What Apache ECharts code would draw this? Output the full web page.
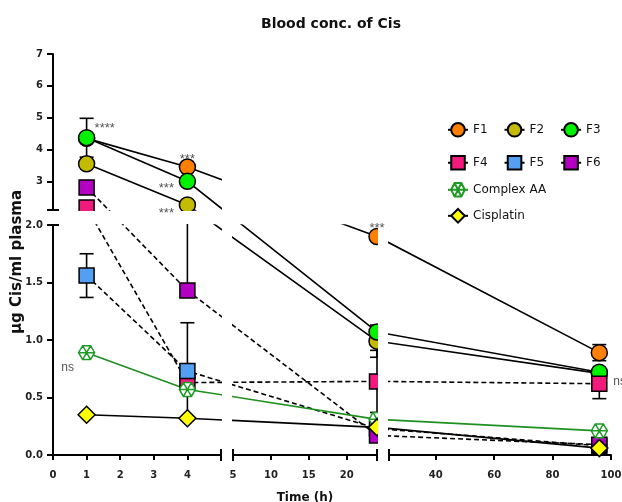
<!DOCTYPE html>
<html lang="en">
<head>
<meta charset="UTF-8">
<title>Blood conc. of Cis</title>
<script src="https://cdn.jsdelivr.net/npm/echarts@6.0.0/dist/echarts.min.js"></script>
<style>
    html, body { margin: 0; padding: 0; background: #fff; }
    #chart { width: 622px; height: 502px; }
</style>
</head>
<body>
<div id="chart"></div>
<script>
// sampling times (h)
var times = [1, 4, 24, 96];

// mean blood conc. (µg Cis/ml plasma), one value per time
var f1 = [4.35, 3.45, 1.90, 0.89];
var f2 = [3.55, 2.26, 0.99, 0.71];
var f3 = [4.37, 3.00, 1.07, 0.72];
var f4 = [2.18, 0.63, 0.64, 0.62];
var f5 = [1.56, 0.73, 0.23, 0.08];
var f6 = [2.81, 1.43, 0.17, 0.09];
var complexAA = [0.89, 0.57, 0.31, 0.21];
var cisplatin = [0.35, 0.32, 0.24, 0.06];

// error bars: [time, low, high]
var f1Err = [[96, 0.82, 0.96]];
var f2Err = [[24, 0.85, 1.13]];
var f3Err = [[1, 3.76, 4.98]];
var f4Err = [[24, 0.37, 0.91], [96, 0.49, 0.75]];
var f5Err = [[1, 1.37, 1.75], [4, 0.31, 1.15]];
var f6Err = [[4, 1.43, 2.05]];
var complexErr = [];
var cisErr = [];

// significance marks: [series, time, text]
var marks = [
    ['F3', 1, '****'],
    ['F1', 4, '***'],
    ['F3', 4, '***'],
    ['F2', 4, '***'],
    ['F1', 24, '***'],
    ['Complex AA', 1, 'ns'],
    ['F4', 96, 'ns']
];

// tick labels per axis piece
var xLabels1 = [0, 1, 2, 3, 4];
var xLabels2 = [5, 10, 15, 20];
var xLabels3 = [40, 60, 80, 100];
var yLabelsLow = [0, 0.5, 1, 1.5, 2];
var yLabelsHigh = [3, 4, 5, 6, 7];

// ---- layout: broken axes as 4 panels ----
var panels = [
    {left: 53, top: 54, width: 168, height: 156, x: [0, 5], y: [2.1, 7]},      // upper left
    {left: 53, top: 225, width: 168, height: 230, x: [0, 5], y: [0, 2]},       // lower left
    {left: 233, top: 225, width: 144, height: 230, x: [5, 24], y: [0, 2]},     // lower middle
    {left: 389, top: 225, width: 222, height: 230, x: [24, 100], y: [0, 2]}    // lower right
];
// where each mark sits relative to its point (dx, dy, align)
var markPos = [[8, -11, 'left'], [0, -10, 'center'], [-21, 5, 'center'], [-21, 7, 'center'],
               [0, -10, 'center'], [-19, 15, 'center'], [14, -2, 'left']];

var hexPath = 'path://M0,8.66L5,0L15,0L20,8.66L15,17.32L5,17.32Z M0,8.66L20,8.66 M5,0L15,17.32 M15,0L5,17.32';

var groups = [
    {name: 'F1', data: f1, err: f1Err, symbol: 'circle', size: 16, fill: '#ff8000', border: '#000', line: '#000', dash: false},
    {name: 'F2', data: f2, err: f2Err, symbol: 'circle', size: 16, fill: '#c4bb00', border: '#000', line: '#000', dash: false},
    {name: 'F3', data: f3, err: f3Err, symbol: 'circle', size: 16, fill: '#00f200', border: '#000', line: '#000', dash: false},
    {name: 'F4', data: f4, err: f4Err, symbol: 'rect', size: 15, fill: '#f21a7d', border: '#000', line: '#000', dash: true},
    {name: 'F5', data: f5, err: f5Err, symbol: 'rect', size: 15, fill: '#559ff2', border: '#000', line: '#000', dash: true},
    {name: 'F6', data: f6, err: f6Err, symbol: 'rect', size: 15, fill: '#b400c2', border: '#000', line: '#000', dash: true},
    {name: 'Complex AA', data: complexAA, err: complexErr, symbol: hexPath, size: 16, fill: '#fff', border: '#1f9a26', line: '#1f8f1f', dash: false},
    {name: 'Cisplatin', data: cisplatin, err: cisErr, symbol: 'diamond', size: 17, fill: '#ffff00', border: '#000', line: '#000', dash: false}
];

var tickFont = {fontFamily: 'DejaVu Sans', fontWeight: 'bold', fontSize: 10, color: '#222'};
var axisLine = {show: true, onZero: false, lineStyle: {color: '#000', width: 2}};

var chart = echarts.init(document.getElementById('chart'));

var xLabelSets = [[], xLabels1, xLabels2, xLabels3];
var xTickSets = [[], xLabels1, [10, 15, 20], xLabels3];
var base = {
    animation: false,
    backgroundColor: '#fff',
    grid: panels.map(function (p) {
        return {left: p.left, top: p.top, width: p.width, height: p.height, containLabel: false, outerBoundsMode: 'none'};
    }),
    xAxis: panels.map(function (p, i) {
        return {
            type: 'value', gridIndex: i, min: p.x[0], max: p.x[1], show: i > 0,
            axisLine: axisLine,
            axisTick: {show: true, customValues: xTickSets[i], length: 5, lineStyle: {color: '#000', width: 2}},
            axisLabel: Object.assign({customValues: xLabelSets[i], margin: 15}, tickFont),
            splitLine: {show: false},
            name: i === 2 ? 'Time (h)' : '',
            nameLocation: 'middle', nameGap: 37,
            nameTextStyle: {fontFamily: 'DejaVu Sans', fontWeight: 'bold', fontSize: 12, color: '#111'}
        };
    }),
    yAxis: panels.map(function (p, i) {
        var vals = i === 0 ? yLabelsHigh : yLabelsLow;
        return {
            type: 'value', gridIndex: i, min: p.y[0], max: p.y[1], show: i < 2,
            axisLine: axisLine,
            axisTick: {show: true, customValues: i === 0 ? yLabelsHigh : [0, 0.5, 1, 1.5], length: 6, lineStyle: {color: '#000', width: 2}},
            axisLabel: Object.assign({
                customValues: vals, margin: 10,
                formatter: function (v) { return i === 0 ? String(v) : v.toFixed(1); }
            }, tickFont),
            splitLine: {show: false}
        };
    })
};
chart.setOption(base);

function home(t, v) {
    if (t <= 5) return v > 2.05 ? 0 : 1;
    return t <= 24 ? 2 : 3;
}
function toPx(p, t, v) {
    return chart.convertToPixel({gridIndex: p}, [t, v]);
}

var series = [];

// error bars, below everything
panels.forEach(function (pn, p) {
    var items = [];
    groups.forEach(function (g) {
        g.err.forEach(function (e) {
            var v = g.data[times.indexOf(e[0])];
            if (home(e[0], v) === p) items.push(e);
        });
    });
    series.push({
        type: 'custom', xAxisIndex: p, yAxisIndex: p, z: 1, silent: true,
        encode: {x: 0, y: [1, 2]},
        data: items,
        renderItem: function (params, api) {
            var lo = api.coord([api.value(0), api.value(1)]);
            var hi = api.coord([api.value(0), api.value(2)]);
            var st = {stroke: '#000', lineWidth: 1.6};
            return {type: 'group', children: [
                {type: 'line', shape: {x1: lo[0], y1: lo[1], x2: hi[0], y2: hi[1]}, style: st},
                {type: 'line', shape: {x1: lo[0] - 7, y1: lo[1], x2: lo[0] + 7, y2: lo[1]}, style: st},
                {type: 'line', shape: {x1: hi[0] - 7, y1: hi[1], x2: hi[0] + 7, y2: hi[1]}, style: st}
            ]};
        }
    });
});

// lines: straight in screen space across the breaks, each panel clips its part
groups.forEach(function (g) {
    var pts = times.map(function (t, i) {
        var h = home(t, g.data[i]);
        return {h: h, t: t, v: g.data[i], pix: toPx(h, t, g.data[i])};
    });
    panels.forEach(function (pn, p) {
        var data = pts.map(function (q) {
            if (q.h === p) return {value: [q.t, q.v]};
            return {value: chart.convertFromPixel({gridIndex: p}, q.pix), symbol: 'none'};
        });
        series.push({
            type: 'line', name: g.name, xAxisIndex: p, yAxisIndex: p, z: 2,
            data: data, clip: true, silent: true,
            symbol: g.symbol, symbolSize: g.size, symbolKeepAspect: true, showAllSymbol: true,
            itemStyle: {color: g.fill, borderColor: g.border, borderWidth: 1.5, opacity: 1},
            lineStyle: {color: g.line, width: 1.6, type: g.dash ? [5, 3] : 'solid'},
            emphasis: {disabled: true}
        });
    });
});

// white gaps of the breaks
var graphics = [
    {type: 'rect', shape: {x: 222, y: 40, width: 10, height: 412}, style: {fill: '#fff'}, z: 100, silent: true},
    {type: 'rect', shape: {x: 378, y: 40, width: 10, height: 412}, style: {fill: '#fff'}, z: 100, silent: true},
    {type: 'rect', shape: {x: 55, y: 211, width: 167, height: 13}, style: {fill: '#fff'}, z: 100, silent: true}
];

// break marks at the ends of each axis piece
[[1, 5, 0, 'v'], [2, 5, 0, 'v'], [2, 24, 0, 'v'], [3, 24, 0, 'v'], [0, 0, 2.1, 'h'], [1, 0, 2, 'h']].forEach(function (b) {
    var c = toPx(b[0], b[1], b[2]);
    var shape = b[3] === 'v'
        ? {x1: c[0], y1: c[1] - 6, x2: c[0], y2: c[1] + 6}
        : {x1: c[0] - 6, y1: c[1], x2: c[0] + 6, y2: c[1]};
    graphics.push({type: 'line', shape: shape, style: {stroke: '#000', lineWidth: 2}, z: 110, silent: true});
});

// significance marks
marks.forEach(function (m, k) {
    var g = groups.filter(function (gg) { return gg.name === m[0]; })[0];
    var i = times.indexOf(m[1]);
    var v = g.data[i];
    var c = toPx(home(m[1], v), m[1], v);
    var o = markPos[k];
    var star = m[2].charAt(0) === '*';
    graphics.push({
        type: 'text', x: c[0] + o[0], y: c[1] + o[1] + (star ? 2 : 0), z: 120, silent: true,
        style: {text: m[2], fill: '#555', fontFamily: 'Liberation Sans', fontSize: star ? 13 : 12,
                align: o[2], verticalAlign: 'middle'}
    });
});

// title and y name
graphics.push({
    type: 'text', x: 331, y: 24, z: 120, silent: true,
    style: {text: 'Blood conc. of Cis', fill: '#111', fontFamily: 'DejaVu Sans', fontWeight: 'bold', fontSize: 14,
            align: 'center', verticalAlign: 'middle'}
});
graphics.push({
    type: 'text', x: 17, y: 262, rotation: Math.PI / 2, z: 120, silent: true,
    style: {text: 'µg Cis/ml plasma', fill: '#111', fontFamily: 'DejaVu Sans', fontWeight: 'bold', fontSize: 15,
            align: 'center', verticalAlign: 'middle'}
});

var legendBase = {
    left: 442, orient: 'horizontal', itemWidth: 20, itemHeight: 17, itemGap: 16,
    textStyle: {fontFamily: 'DejaVu Sans', fontSize: 12, color: '#111'}
};
chart.setOption({
    legend: [
        Object.assign({top: 117, data: ['F1', 'F2', 'F3']}, legendBase),
        Object.assign({top: 150, data: ['F4', 'F5', 'F6']}, legendBase),
        Object.assign({top: 177, data: ['Complex AA']}, legendBase),
        Object.assign({top: 203, data: ['Cisplatin']}, legendBase)
    ],
    series: series,
    graphic: {elements: graphics}
});
window.onresize = chart.resize;
</script>
</body>
</html>
